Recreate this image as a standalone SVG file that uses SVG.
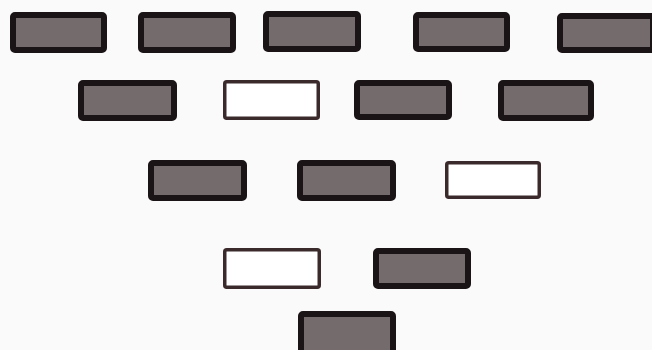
<svg xmlns="http://www.w3.org/2000/svg" width="652" height="350" viewBox="0 0 652 350">
<style>
.d{fill:#736b6c;stroke:#1a1416;stroke-width:6;rx:2}
.w{fill:#ffffff;stroke:#3a2a2c;stroke-width:3.5;rx:2}
</style>
<rect width="652" height="350" fill="#fbfafa"/>
<g id="r1n1"><rect class="d" x="13" y="15" width="91" height="35"/></g>
<g id="r1n2"><rect class="d" x="141" y="15" width="92" height="35"/></g>
<g id="r1n3"><rect class="d" x="266" y="14" width="92" height="35"/></g>
<g id="r1n4"><rect class="d" x="416" y="15" width="91" height="34"/></g>
<g id="r1n5"><rect class="d" x="560" y="16" width="93" height="34"/></g>
<g id="r2n1"><rect class="d" x="81" y="83" width="93" height="35"/></g>
<g id="r2n2"><rect class="w" x="224.75" y="81.75" width="93.5" height="36.5"/></g>
<g id="r2n3"><rect class="d" x="357" y="83" width="92" height="34"/></g>
<g id="r2n4"><rect class="d" x="501" y="83" width="90" height="35"/></g>
<g id="r3n1"><rect class="d" x="151" y="163" width="93" height="35"/></g>
<g id="r3n2"><rect class="d" x="300" y="163" width="93" height="35"/></g>
<g id="r3n3"><rect class="w" x="446.75" y="162.75" width="92.5" height="34.5"/></g>
<g id="r4n1"><rect class="w" x="224.75" y="249.75" width="94.5" height="37.5"/></g>
<g id="r4n2"><rect class="d" x="376" y="251" width="92" height="35"/></g>
<g id="r5n1"><rect class="d" x="301" y="314" width="92" height="40"/></g>
<g id="connectors"></g>
</svg>
